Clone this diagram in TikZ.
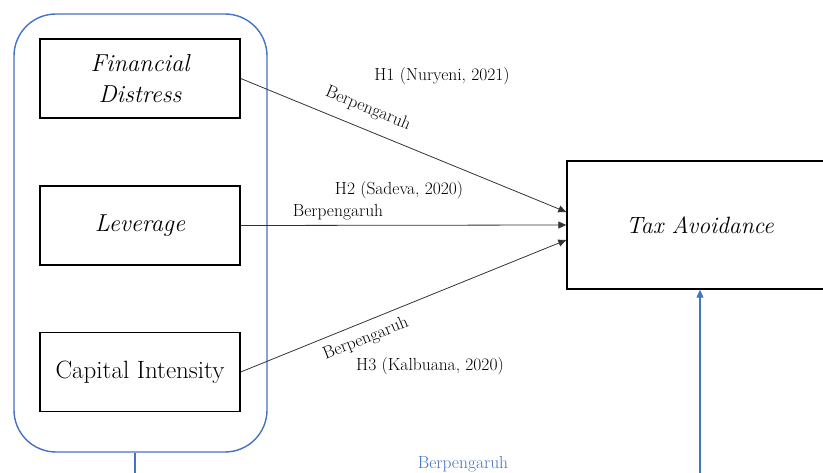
\documentclass[tikz,border=0pt]{standalone}
\usepackage{fontspec}
\usetikzlibrary{arrows.meta}
\definecolor{obl}{RGB}{68,114,196}
\tikzset{
  varbox/.style={draw=black, line width=1.4pt, minimum width=200pt, minimum height=79pt, align=center, font=\fontsize{24.5}{31}\selectfont, inner sep=0pt},
  conn/.style={draw=black!80, line width=0.8pt, -{Triangle[length=8pt,width=7pt]}},
  lbl/.style={font=\fontsize{17.5}{20}\selectfont, inner sep=0pt},
}
\begin{document}
\begin{tikzpicture}[x=1pt,y=-1pt]
\useasboundingbox (0,0) rectangle (823,473);
\node[draw=obl, line width=1.4pt, rounded corners=42pt, minimum width=253pt, minimum height=438pt, inner sep=0pt] (grp) at (140.5,233) {};
\node[varbox] (fd) at (140,78.5) {\itshape Financial\\\itshape Distress};
\node[varbox] (lev) at (140,225.5) {\itshape Leverage};
\node[varbox] (ci) at (140,372) {\fontsize{25}{28}\selectfont Capital Intensity};
\node[draw=black, line width=1.4pt, minimum width=266pt, minimum height=128pt, inner sep=0pt, font=\fontsize{23.6}{30}\selectfont] (ta) at (700,225) {\itshape Tax Avoidance};
\draw[conn] (fd.east) -- ([yshift=13pt]ta.west);
\draw[conn] (lev.east) -- (ta.west);
\draw[conn] (ci.east) -- ([yshift=-15pt]ta.west);
\coordinate (bl) at (135,473);
\coordinate (br) at (700,473);
\draw[obl, line width=1.2pt] (grp.south -| bl) -- (bl);
\draw[obl, line width=1.2pt, -{Triangle[length=8pt,width=7pt]}] (br) -- (ta.south);
\node[lbl] (h1) at (442,76) {H1 (Nuryeni, 2021)};
\node[lbl, rotate=-22.4] (b1) at (368,109) {Berpengaruh};
\node[lbl] (h2) at (399,190) {H2 (Sadeva, 2020)};
\node[lbl] (b2) at (338,212) {Berpengaruh};
\node[lbl, rotate=22] (b3) at (366,339) {Berpengaruh};
\node[lbl] (h3) at (430,366) {H3 (Kalbuana, 2020)};
\node[lbl, text=obl] (b4) at (463,464) {Berpengaruh};
\end{tikzpicture}
\end{document}
